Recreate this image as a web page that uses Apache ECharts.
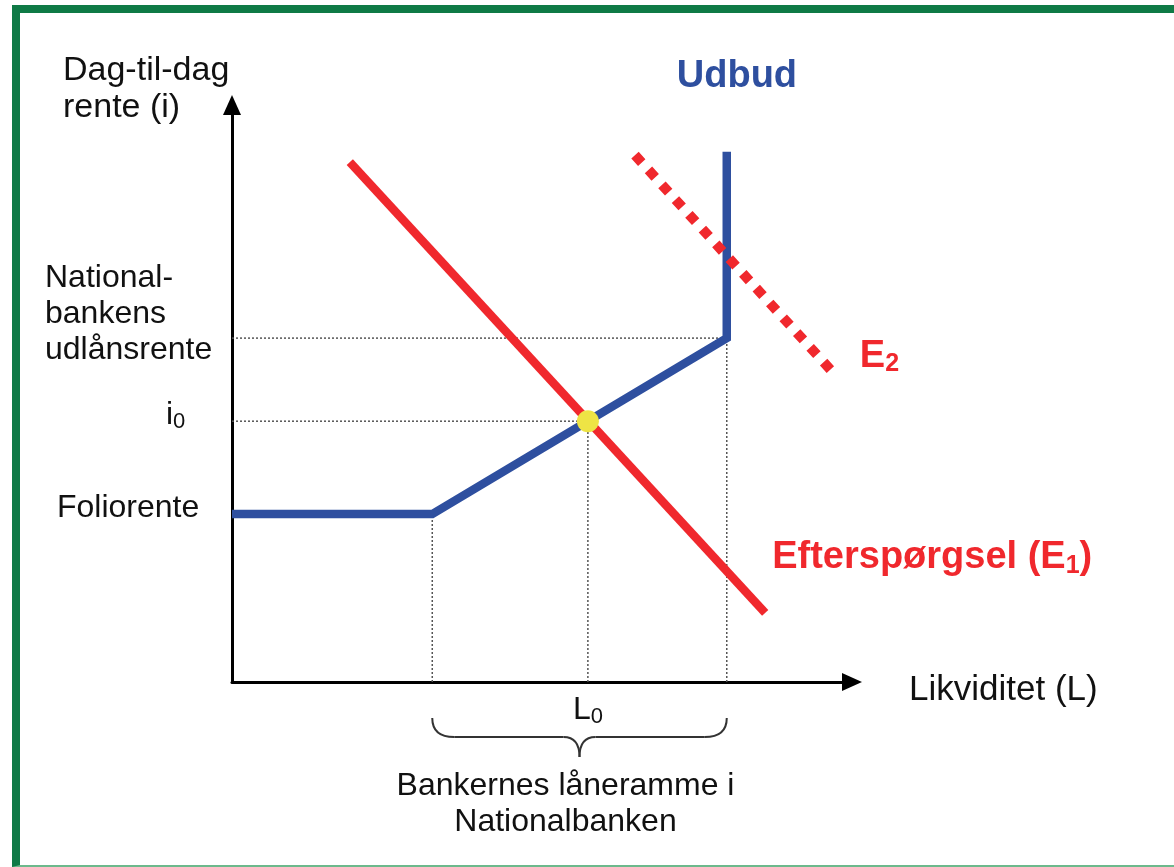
<!DOCTYPE html>
<html lang="da">
<head>
    <meta charset="UTF-8">
    <title>Dag-til-dag rente</title>
    <script src="https://cdn.jsdelivr.net/npm/echarts@6/dist/echarts.min.js"></script>
</head>
<style>
    html,body{
        margin:0;
        padding:0;
        background:#fff;
    }
    #chart{
        width:1174px;
        height:867px;
    }
    #frame{
        position:absolute;
        left:12px;
        top:5px;
        width:1200px;
        height:852px;
        border-left:8px solid #0f7a46;
        border-top:8px solid #0f7a46;
        border-bottom:2px solid #6cb98c;
        pointer-events:none;
    }
</style>
<body>
    <div id="chart"></div>
    <div id="frame"></div>
</body>
</html>

<script>
    // udbud (knækket kurve)
    const supplyX = [0, 32.3, 79.8, 79.8];
    const supplyY = [29.1, 29.1, 59.6, 91.9];
    // efterspørgsel E1 og E2
    const demand1X = [19.0, 86.0];
    const demand1Y = [90.1, 12.0];
    const demand2X = [65.0, 96.9];
    const demand2Y = [91.3, 53.7];
    // ligevægt
    const eqX = 57.4;
    const eqY = 45.2;
    // niveauer på akserne
    const yTickValues = [29.1, 45.2, 59.6];
    const yTickLabels = ['Foliorente', 'i0', 'National-\nbankens\nudlånsrente'];
    const xTickValues = [32.3, 57.4, 79.8];

    const RED = '#f0282d';
    const BLUE = '#2e4f9f';
    const FONT = '"Liberation Sans", Arial, sans-serif';

    const pairs = (xs, ys) => xs.map((x, i) => [x, ys[i]]);

    // stiplede hjælpelinjer
    const guides = [
        [[0, yTickValues[2]], [xTickValues[2], yTickValues[2]]],
        [[0, yTickValues[1]], [xTickValues[1], yTickValues[1]]],
        [[xTickValues[0], 0], [xTickValues[0], yTickValues[0]]],
        [[xTickValues[1], 0], [xTickValues[1], yTickValues[1]]],
        [[xTickValues[2], 0], [xTickValues[2], yTickValues[2]]]
    ];

    let chart = echarts.init(document.getElementById('chart'));

    let axisCommon = {
        type: 'value',
        min: 0,
        max: 100,
        axisLine: {
            show: true,
            symbol: ['none', 'triangle'],
            symbolSize: [18, 20],
            lineStyle: {color: '#000', width: 3}
        },
        axisTick: {show: false},
        axisLabel: {show: false},
        splitLine: {show: false}
    };

    let series = guides.map(g => ({
        type: 'line',
        data: g,
        symbol: 'none',
        lineStyle: {color: '#555', width: 1.5, type: [2, 2]},
        z: 1
    }));

    series.push({
        name: 'Udbud',
        type: 'line',
        data: pairs(supplyX, supplyY),
        symbol: 'none',
        lineStyle: {color: BLUE, width: 8.5, join: 'miter'},
        z: 3
    });
    series.push({
        name: 'E1',
        type: 'line',
        data: pairs(demand1X, demand1Y),
        symbol: 'none',
        lineStyle: {color: RED, width: 8.5},
        z: 4
    });
    series.push({
        name: 'E2',
        type: 'line',
        data: pairs(demand2X, demand2Y),
        symbol: 'none',
        lineStyle: {color: RED, width: 10, type: [10, 10]},
        z: 4
    });
    series.push({
        type: 'scatter',
        data: [[eqX, eqY]],
        symbolSize: 22,
        itemStyle: {color: '#eee445', opacity: 1},
        z: 5
    });

    chart.setOption({
        animation: false,
        grid: {left: 232, right: 322, top: 105, bottom: 185},
        xAxis: axisCommon,
        yAxis: axisCommon,
        series: series
    });

    // tekster placeres ud fra aksernes koordinater
    const px = (x, y) => chart.convertToPixel({xAxisIndex: 0, yAxisIndex: 0}, [x, y]);
    const origin = px(0, 0);
    const rich = {
        n: {fontSize: 32, fontFamily: FONT, lineHeight: 40},
        s: {fontSize: 22, fontFamily: FONT, lineHeight: 40, padding: [14, 0, 0, 0]},
        bn: {fontSize: 38, fontFamily: FONT, fontWeight: 'bold', lineHeight: 46},
        bs: {fontSize: 25, fontFamily: FONT, fontWeight: 'bold', lineHeight: 46, padding: [16, 0, 0, 0]}
    };
    const text = (x, y, str, opt) => ({
        type: 'text',
        x: x,
        y: y,
        silent: true,
        style: Object.assign({
            text: str,
            fill: '#111',
            fontSize: 32,
            fontFamily: FONT,
            align: 'left',
            verticalAlign: 'middle'
        }, opt || {})
    });
    const braceStyle = {fill: 'none', stroke: '#333', lineWidth: 2};
    const curve = (x1, y1, cx, cy, x2, y2) => ({
        type: 'bezierCurve', silent: true,
        shape: {x1: x1, y1: y1, cpx1: cx, cpy1: cy, x2: x2, y2: y2},
        style: braceStyle
    });
    const seg = (x1, y1, x2, y2) => ({
        type: 'line', silent: true,
        shape: {x1: x1, y1: y1, x2: x2, y2: y2},
        style: braceStyle
    });

    const yFolio = px(0, yTickValues[0])[1];
    const yI0 = px(0, yTickValues[1])[1];
    const yNat = px(0, yTickValues[2])[1];
    const xLow = px(xTickValues[0], 0)[0];
    const xL0 = px(xTickValues[1], 0)[0];
    const xHigh = px(xTickValues[2], 0)[0];
    const xMid = (xLow + xHigh) / 2;
    const supplyTop = px(supplyX[3], supplyY[3]);
    const e2End = px(demand2X[1], demand2Y[1]);
    const e1End = px(demand1X[1], demand1Y[1]);

    // tuborgklamme under x-aksen
    const by = origin[1] + 36;
    const braceMid = by + 19;
    const braceTip = by + 39;

    chart.setOption({
        graphic: [
            text(63, 52, 'Dag-til-dag\nrente (i)', {fontSize: 34, lineHeight: 37, verticalAlign: 'top'}),
            text(45, yNat + 30, yTickLabels[2], {lineHeight: 36, verticalAlign: 'bottom'}),
            text(166, yI0 - 6, '{n|i}{s|0}', {rich: rich}),
            text(57, yFolio - 6, yTickLabels[0]),
            text(supplyTop[0] - 50, 77, 'Udbud', {fill: BLUE, fontSize: 38, fontWeight: 'bold'}),
            text(e2End[0] + 27, e2End[1] - 16, '{bn|E}{bs|2}', {fill: RED, rich: rich}),
            text(e1End[0] + 7, e1End[1] - 55, '{bn|Efterspørgsel (E}{bs|1}{bn|)}', {fill: RED, rich: rich}),
            text(909, origin[1] + 8, 'Likviditet (L)', {fontSize: 35}),
            text(xL0 - 15, origin[1] + 28, '{n|L}{s|0}', {rich: rich}),
            curve(xLow, by, xLow, braceMid, xLow + 22, braceMid),
            seg(xLow + 22, braceMid, xMid - 16, braceMid),
            curve(xMid - 16, braceMid, xMid, braceMid, xMid, braceTip),
            curve(xMid + 16, braceMid, xMid, braceMid, xMid, braceTip),
            seg(xMid + 16, braceMid, xHigh - 22, braceMid),
            curve(xHigh - 22, braceMid, xHigh, braceMid, xHigh, by),
            text(xMid - 14, 768, 'Bankernes låneramme i\nNationalbanken', {align: 'center', lineHeight: 36, verticalAlign: 'top'})
        ]
    });
</script>
